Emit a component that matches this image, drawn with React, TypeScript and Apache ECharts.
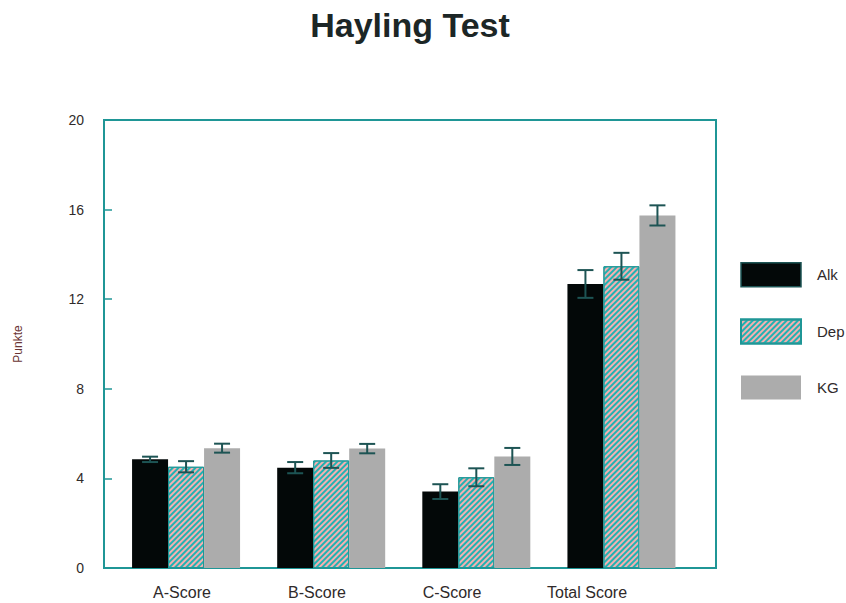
import React, { useEffect, useRef } from "react";
import * as echarts from "echarts";

// Hayling test scores per group (mean and standard error)
const categories = ["A-Score", "B-Score", "C-Score", "Total Score"];
const groups = ["Alk", "Dep", "KG"];
const alkMean = [4.85, 4.48, 3.41, 12.68];
const alkErr = [0.12, 0.25, 0.33, 0.62];
const depMean = [4.52, 4.8, 4.05, 13.47];
const depErr = [0.25, 0.33, 0.4, 0.6];
const kgMean = [5.35, 5.33, 4.98, 15.74];
const kgErr = [0.2, 0.21, 0.38, 0.45];
const yTicks = { min: 0, max: 20, interval: 4 };

const TEAL = "#1f9696";
const TEXT = "#2f2a2a";
const ERR = "#1d5454";
const BAR_W = 36;

function errorSeries(name: string, mean: number[], err: number[], slot: number) {
  return {
    type: "custom",
    name: name + " SE",
    xAxisIndex: 1,
    yAxisIndex: 1,
    z: 10,
    silent: true,
    data: categories.map((_, i) => [i, mean[i], err[i]]),
    renderItem: (_params: any, api: any) => {
      const i = api.value(0);
      const m = api.value(1);
      const e = api.value(2);
      const top = api.coord([i, m + e]);
      const bot = api.coord([i, m - e]);
      const cx = top[0] + (slot - 1) * BAR_W;
      const half = 8;
      const style = { stroke: ERR, lineWidth: 2 };
      return {
        type: "group",
        children: [
          { type: "line", shape: { x1: cx, y1: top[1], x2: cx, y2: bot[1] }, style },
          { type: "line", shape: { x1: cx - half, y1: top[1], x2: cx + half, y2: top[1] }, style },
          { type: "line", shape: { x1: cx - half, y1: bot[1], x2: cx + half, y2: bot[1] }, style },
        ],
      };
    },
  };
}

export default function App() {
  const ref = useRef<HTMLDivElement>(null);

  useEffect(() => {
    if (!ref.current) return;
    document.body.style.margin = "0";
    document.body.style.overflow = "hidden";
    const chart = echarts.init(ref.current, undefined, { renderer: "svg" });
    const font = "'Liberation Sans', Arial, sans-serif";

    const hatch = {
      color: "#f6b0b0",
      borderColor: TEAL,
      borderWidth: 1,
      decal: {
        symbol: "rect",
        symbolSize: 1,
        color: "#20b2b2",
        dashArrayX: [1, 0],
        dashArrayY: [1.7, 1.9],
        rotation: -Math.PI / 4,
      },
    };

    chart.setOption({
      animation: false,
      backgroundColor: "#ffffff",
      textStyle: { fontFamily: font },
      title: {
        text: "Hayling Test",
        left: 405,
        textAlign: "center",
        top: 3,
        textStyle: { fontSize: 34, fontWeight: "bold", color: "#1c2626", fontFamily: font },
      },
      legend: {
        orient: "vertical",
        left: 735,
        top: 257,
        itemWidth: 60,
        itemHeight: 24,
        itemGap: 31,
        icon: "rect",
        data: [
          { name: "Alk", itemStyle: { borderColor: ERR, borderWidth: 1.5 } },
          { name: "Dep" },
          { name: "KG" },
        ],
        textStyle: { fontSize: 15, color: TEXT, fontFamily: font, padding: [0, 0, 0, 11] },
      },
      grid: [
        // frame of the plot area
        { left: 104, right: 130, top: 120, bottom: 35, show: true, borderColor: TEAL, borderWidth: 2, backgroundColor: "transparent" },
        // bars
        { left: 113.5, right: 152, top: 120, bottom: 35 },
        // category labels
        { left: 114.5, right: 191.5, top: 120, bottom: 35 },
      ],
      xAxis: [
        {
          gridIndex: 0,
          type: "category",
          data: categories,
          axisLine: { show: true, lineStyle: { color: TEAL, width: 2 } },
          axisTick: { show: false },
          axisLabel: { show: false },
          splitLine: { show: false },
        },
        {
          gridIndex: 1,
          type: "category",
          data: categories,
          axisLine: { show: false },
          axisTick: { show: false },
          axisLabel: { show: false },
        },
        {
          gridIndex: 2,
          type: "category",
          data: categories,
          axisLine: { show: false },
          axisTick: { show: false },
          axisLabel: { show: true, fontSize: 16, color: TEXT, margin: 16, fontFamily: font },
        },
      ],
      yAxis: [
        {
          gridIndex: 0,
          type: "value",
          ...yTicks,
          name: "Punkte",
          nameLocation: "middle",
          nameGap: 80,
          nameTextStyle: { fontSize: 12, color: "#6a3434", fontFamily: font },
          axisLine: { show: true, lineStyle: { color: TEAL, width: 2 } },
          axisTick: { show: true, inside: true, length: 8, lineStyle: { color: TEAL, width: 1.5 } },
          axisLabel: { fontSize: 14, color: TEXT, margin: 20, fontFamily: font },
          splitLine: { show: false },
        },
        { gridIndex: 1, type: "value", ...yTicks, show: false },
        { gridIndex: 2, type: "value", ...yTicks, show: false },
      ],
      series: [
        {
          type: "bar",
          name: groups[0],
          xAxisIndex: 1,
          yAxisIndex: 1,
          barWidth: BAR_W,
          barGap: "0%",
          data: alkMean,
          itemStyle: { color: "#030808" },
        },
        {
          type: "bar",
          name: groups[1],
          xAxisIndex: 1,
          yAxisIndex: 1,
          barWidth: BAR_W,
          barGap: "0%",
          data: depMean,
          itemStyle: hatch,
        },
        {
          type: "bar",
          name: groups[2],
          xAxisIndex: 1,
          yAxisIndex: 1,
          barWidth: BAR_W,
          barGap: "0%",
          data: kgMean,
          itemStyle: { color: "#acacac" },
        },
        errorSeries(groups[0], alkMean, alkErr, 0),
        errorSeries(groups[1], depMean, depErr, 1),
        errorSeries(groups[2], kgMean, kgErr, 2),
      ],
    });

    return () => chart.dispose();
  }, []);

  return <div ref={ref} style={{ width: 846, height: 603 }} />;
}
